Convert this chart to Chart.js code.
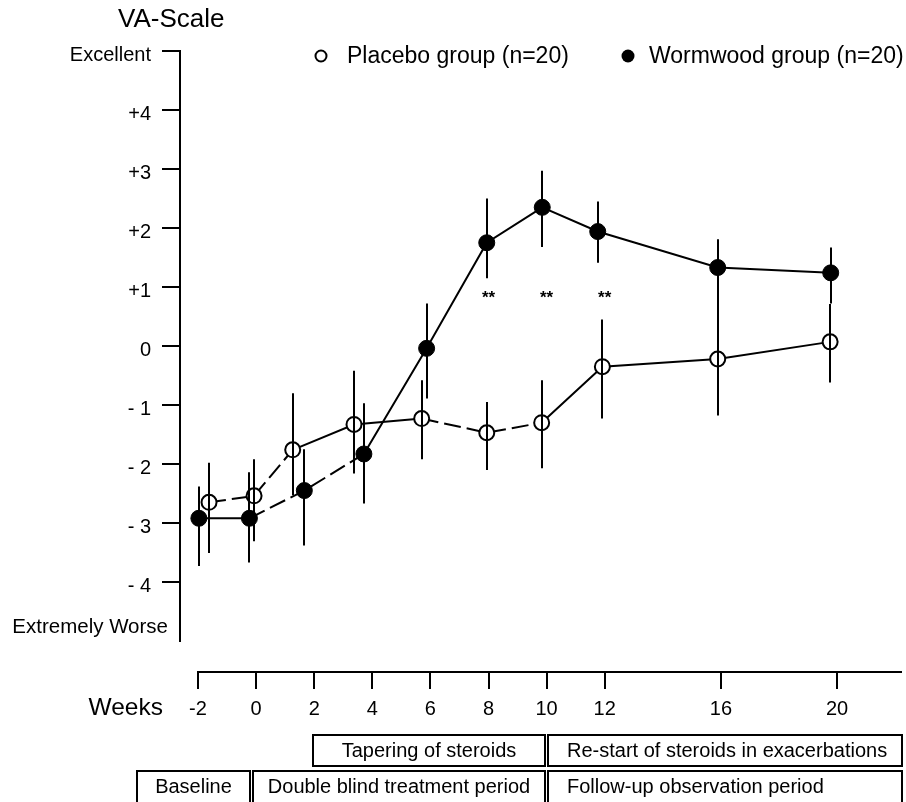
<!DOCTYPE html>
<html>
<head>
<meta charset="utf-8">
<script src="https://cdn.jsdelivr.net/npm/chart.js@4"></script>
<style>
  html, body { margin: 0; padding: 0; background: #ffffff; }
  #wrap { width: 906px; height: 802px; position: relative; }
</style>
</head>
<body>
<div id="wrap"><canvas id="c" width="906" height="802"></canvas></div>
<script>
// ---------- data ----------
const weekTicks = [-2, 0, 2, 4, 6, 8, 10, 12, 16, 20];
const yTickValues = [5, 4, 3, 2, 1, 0, -1, -2, -3, -4];
const yTickLabels = ['Excellent', '+4', '+3', '+2', '+1', '0', '- 1', '- 2', '- 3', '- 4'];
const yBottomLabel = 'Extremely Worse';
const yAxisTitle = 'VA-Scale';
const xAxisTitle = 'Weeks';

const placeboLabel = 'Placebo group (n=20)';
const placeboWeeks = [-1.62, -0.07, 1.26, 3.37, 5.70, 7.94, 9.83, 11.92, 15.89, 19.76];
const placeboMean  = [-2.65, -2.54, -1.76, -1.33, -1.23, -1.47, -1.30, -0.35, -0.22, 0.07];
const placeboHigh  = [-1.98, -1.92, -0.80, -0.42, -0.58, -0.95, -0.58, 0.45, 0.64, 0.71];
const placeboLow   = [-3.51, -3.31, -2.53, -2.16, -1.92, -2.10, -2.07, -1.23, -1.18, -0.62];

const wormwoodLabel = 'Wormwood group (n=20)';
const wormwoodWeeks = [-1.97, -0.23, 1.66, 3.71, 5.87, 7.94, 9.85, 11.76, 15.89, 19.78];
const wormwoodMean  = [-2.92, -2.92, -2.45, -1.83, -0.04, 1.75, 2.35, 1.94, 1.33, 1.24];
const wormwoodHigh  = [-2.38, -2.14, -1.75, -0.97, 0.72, 2.50, 2.97, 2.45, 1.81, 1.67];
const wormwoodLow   = [-3.73, -3.67, -3.38, -2.67, -0.89, 1.15, 1.68, 1.41, 0.62, 0.72];

const sigWeeks = [8, 10, 12];
const sigLevel = 0.86;
const sigText = '**';

const periodLabels = ['Tapering of steroids', 'Re-start of steroids in exacerbations',
                      'Baseline', 'Double blind treatment period', 'Follow-up observation period'];
const periodStart = [1.9, 10, -4.16, -0.15, 10];
const periodEnd   = [10, 22.3, -0.15, 10, 22.3];
const periodRow   = [0, 0, 1, 1, 1];

// ---------- styling / layout ----------
const FONT = "'Liberation Sans', Arial, Helvetica, sans-serif";
const periodAlign = ['center', 'left', 'center', 'center', 'left'];
const rowTop = [735, 771];
const rowHeight = [31, 40];
const xAxisLevel = -5.525;          // y-value where the detached week axis is drawn
const placeboDashSegs = new Set([0, 1, 4, 5]);
const wormwoodDashSegs = new Set([1, 2]);

const toPts = (xs, ys) => xs.map((x, i) => ({ x: x, y: ys[i] }));

const overlay = {
  id: 'overlay',
  afterDatasetsDraw(chart) {
    const ctx = chart.ctx, xs = chart.scales.x, ys = chart.scales.y;
    ctx.save();
    ctx.strokeStyle = '#000';
    ctx.lineWidth = 2;
    const bars = [[placeboWeeks, placeboLow, placeboHigh], [wormwoodWeeks, wormwoodLow, wormwoodHigh]];
    bars.forEach(([w, lo, hi]) => {
      w.forEach((wk, i) => {
        const px = Math.round(xs.getPixelForValue(wk));
        ctx.beginPath();
        ctx.moveTo(px, ys.getPixelForValue(hi[i]));
        ctx.lineTo(px, ys.getPixelForValue(lo[i]));
        ctx.stroke();
      });
    });
    ctx.restore();
  },
  afterDraw(chart) {
    const ctx = chart.ctx, xs = chart.scales.x, ys = chart.scales.y, ca = chart.chartArea;
    ctx.save();
    ctx.fillStyle = '#000';
    ctx.strokeStyle = '#000';

    // week axis line
    const ay = Math.round(ys.getPixelForValue(xAxisLevel));
    ctx.lineWidth = 2;
    ctx.beginPath();
    ctx.moveTo(xs.getPixelForValue(weekTicks[0]) - 1, ay);
    ctx.lineTo(ca.right, ay);
    ctx.stroke();

    // titles
    ctx.font = '26px ' + FONT;
    ctx.textBaseline = 'middle';
    ctx.textAlign = 'left';
    ctx.fillText(yAxisTitle, 118, 20);
    ctx.font = '24.5px ' + FONT;
    ctx.textAlign = 'right';
    ctx.fillText(xAxisTitle, 163, 708);

    // bottom label of y axis
    ctx.font = '20.5px ' + FONT;
    ctx.textAlign = 'right';
    ctx.fillText(yBottomLabel, 168, Math.round(ys.getPixelForValue(-5)) - 14);

    // significance marks
    ctx.font = 'bold 17px ' + FONT;
    ctx.textAlign = 'center';
    sigWeeks.forEach(w => ctx.fillText(sigText, xs.getPixelForValue(w), ys.getPixelForValue(sigLevel) + 3));

    // legend
    ctx.font = '23px ' + FONT;
    ctx.textAlign = 'left';
    ctx.lineWidth = 2;
    ctx.beginPath(); ctx.arc(321, 56, 5.5, 0, Math.PI * 2);
    ctx.fillStyle = '#fff'; ctx.fill(); ctx.stroke();
    ctx.fillStyle = '#000';
    ctx.fillText(chart.data.datasets[0].label, 347, 57);
    ctx.beginPath(); ctx.arc(628, 56, 6.5, 0, Math.PI * 2); ctx.fill();
    ctx.fillText(chart.data.datasets[1].label, 649, 57);

    // period boxes
    ctx.font = '20px ' + FONT;
    ctx.lineWidth = 2;
    periodLabels.forEach((lab, i) => {
      const x0 = Math.round(xs.getPixelForValue(periodStart[i]) + 1.5);
      const x1 = Math.round(xs.getPixelForValue(periodEnd[i]) - 1.5);
      const r = periodRow[i];
      const t = rowTop[r], h = rowHeight[r];
      ctx.strokeRect(x0, t, x1 - x0, h);
      ctx.textAlign = periodAlign[i];
      const tx = periodAlign[i] === 'center' ? (x0 + x1) / 2 : x0 + 19;
      ctx.fillText(lab, tx, t + 16);
    });
    ctx.restore();
  }
};

const pxPerWeek = 29.05;
const xMin = -2 - 18 / pxPerWeek;
const xMax = -2 + (902 - 198) / pxPerWeek;

new Chart(document.getElementById('c'), {
  type: 'line',
  data: {
    datasets: [
      {
        label: placeboLabel,
        data: toPts(placeboWeeks, placeboMean),
        borderColor: '#000',
        borderWidth: 2,
        pointRadius: 7.5,
        pointBackgroundColor: '#fff',
        pointBorderColor: '#000',
        pointBorderWidth: 2,
        fill: false,
        tension: 0,
        segment: { borderDash: c => placeboDashSegs.has(c.p0DataIndex) ? [17, 6] : [] }
      },
      {
        label: wormwoodLabel,
        data: toPts(wormwoodWeeks, wormwoodMean),
        borderColor: '#000',
        borderWidth: 2,
        pointRadius: 8,
        pointBackgroundColor: '#000',
        pointBorderColor: '#000',
        pointBorderWidth: 1,
        fill: false,
        tension: 0,
        segment: { borderDash: c => wormwoodDashSegs.has(c.p0DataIndex) ? [17, 6] : [] }
      }
    ]
  },
  options: {
    responsive: false,
    devicePixelRatio: 1,
    animation: false,
    layout: { autoPadding: false, padding: { top: 51, right: 4, bottom: 161, left: 0 } },
    plugins: { legend: { display: false }, tooltip: { enabled: false }, title: { display: false } },
    scales: {
      x: {
        type: 'linear',
        position: { y: xAxisLevel },
        min: xMin,
        max: xMax,
        afterFit: s => { s.paddingLeft = 0; s.paddingRight = 0; },
        afterBuildTicks: s => { s.ticks = weekTicks.map(v => ({ value: v })); },
        ticks: {
          autoSkip: false, maxRotation: 0, minRotation: 0,
          color: '#000', padding: 9,
          font: { family: FONT, size: 20 },
          callback: v => String(v)
        },
        grid: { drawOnChartArea: false, drawTicks: true, tickLength: 17, lineWidth: 2, color: '#000', tickColor: '#000' },
        border: { display: false }
      },
      y: {
        type: 'linear',
        position: 'left',
        min: -5,
        max: 5,
        afterFit: s => { s.width = 180; },
        afterBuildTicks: s => { s.ticks = yTickValues.map(v => ({ value: v })); },
        ticks: {
          autoSkip: false, color: '#000', padding: 11, labelOffset: 4,
          font: { family: FONT, size: 20 },
          callback: v => { const k = yTickValues.indexOf(v); return k >= 0 ? yTickLabels[k] : ''; }
        },
        grid: { drawOnChartArea: false, drawTicks: true, tickLength: 18, lineWidth: 2, color: '#000', tickColor: '#000' },
        border: { display: true, color: '#000', width: 2 }
      }
    }
  },
  plugins: [overlay]
});
</script>
</body>
</html>
